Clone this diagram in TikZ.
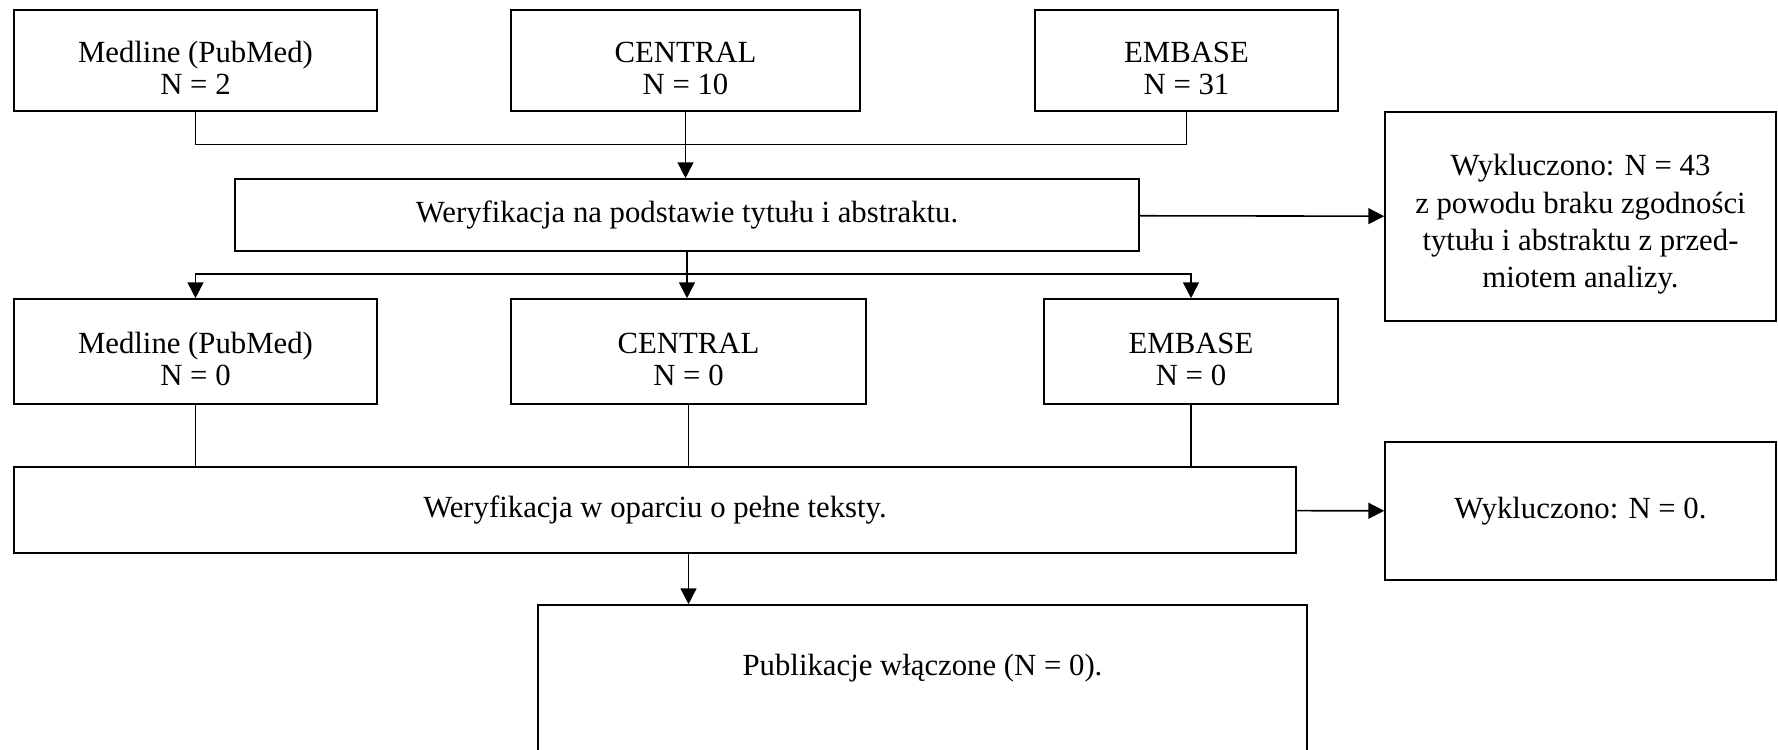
\documentclass[tikz,border=0pt]{standalone}
\usepackage{fontspec}
\setmainfont{Liberation Serif}
\usetikzlibrary{arrows.meta}
\newcommand{\toppad}{\rule{0pt}{21pt}}

\begin{document}
\begin{tikzpicture}[
    box/.style={rectangle,draw,line width=0.9pt,inner sep=2pt,align=center,
        font=\fontsize{17.5}{18.2}\selectfont},
    dbbox/.style={box,minimum height=2.02cm},
    exclbox/.style={box,minimum width=7.82cm,font=\fontsize{17.5}{21.2}\selectfont},
    link/.style={line width=0.9pt},
    >={Triangle[length=9pt,width=9pt]}
]
    \useasboundingbox (0,0) rectangle (35.56,-14.98);

    % Databases, search
    \node[dbbox,minimum width=7.26cm] (med1) at (3.91,-1.21) {\toppad Medline (PubMed)\\N = 2};
    \node[dbbox,minimum width=6.98cm] (cen1) at (13.71,-1.21) {\toppad CENTRAL\\N = 10};
    \node[dbbox,minimum width=6.06cm] (emb1) at (23.73,-1.21) {\toppad EMBASE\\N = 31};

    % Screening of titles and abstracts
    \node[box,minimum width=18.08cm,minimum height=1.44cm] (ver1) at (13.74,-4.30)
        {Weryfikacja na podstawie tytułu i abstraktu.};
    \node[exclbox,minimum height=4.18cm] (exc1) at (31.61,-4.33)
        {\toppad Wykluczono: N = 43\\z powodu braku zgodności\\tytułu i abstraktu z przed-\\miotem analizy.};

    % Databases, after screening
    \node[dbbox,minimum width=7.26cm,minimum height=2.10cm] (med2) at (3.91,-7.03) {\toppad Medline (PubMed)\\N = 0};
    \node[dbbox,minimum width=7.10cm,minimum height=2.10cm] (cen2) at (13.77,-7.03) {\toppad CENTRAL\\N = 0};
    \node[dbbox,minimum width=5.88cm,minimum height=2.10cm] (emb2) at (23.82,-7.03) {\toppad EMBASE\\N = 0};

    % Full-text check
    \node[box,minimum width=25.64cm,minimum height=1.72cm] (ver2) at (13.10,-10.20)
        {Weryfikacja w oparciu o pełne teksty.};
    \node[exclbox,minimum height=2.76cm] (exc2) at (31.61,-10.22) {Wykluczono: N = 0.};

    % Result
    \node[box,minimum width=15.38cm,minimum height=2.92cm,text depth=15pt] (incl) at (18.45,-13.56)
        {Publikacje włączone (N = 0).};

    % Connectors
    \draw[link] (med1.south) -- ++(0,-0.65) -| (emb1.south);
    \draw[link,->] (cen1.south) -- (cen1.south |- ver1.north);
    \draw[link,->] (ver1) -- (exc1);

    \coordinate (split) at (13.74,-5.48);
    \draw[link] (ver1.south) -- (split);
    \draw[link,->] (split) -| (med2.north);
    \draw[link,->] (split) -| (emb2.north);
    \draw[link,->] (split) -- (split |- cen2.north);

    \draw[link] (med2.south) -- (med2.south |- ver2.north);
    \draw[link] (cen2.south) -- (cen2.south |- ver2.north);
    \draw[link] (emb2.south) -- (emb2.south |- ver2.north);
    \draw[link,->] (ver2) -- (exc2);
    \draw[link,->] (cen2 |- ver2.south) -- (cen2 |- incl.north);
\end{tikzpicture}
\end{document}
